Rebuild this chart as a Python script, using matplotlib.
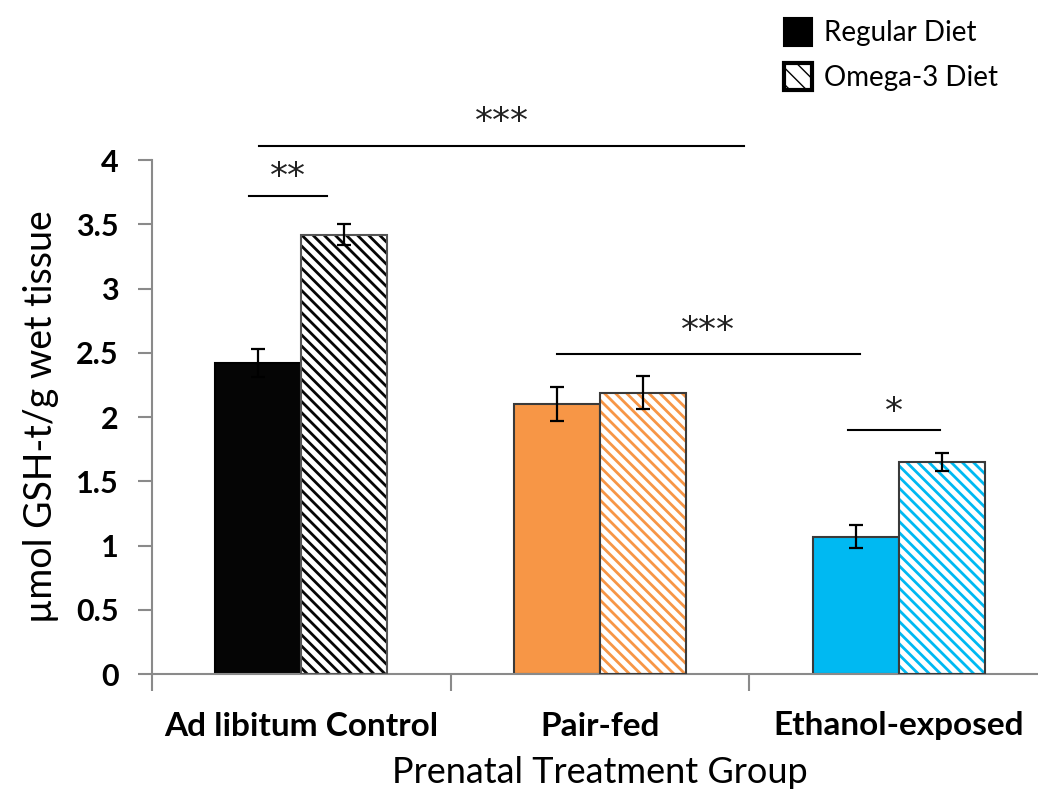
import matplotlib
matplotlib.use("Agg")
import matplotlib.pyplot as plt
from matplotlib.patches import Patch
import numpy as np

plt.rcParams['font.family'] = ['Lato', 'DejaVu Sans']

# Data
groups = ["Ad libitum Control", "Pair-fed", "Ethanol-exposed"]
regular_mean = [2.42, 2.10, 1.07]
regular_err = [0.11, 0.13, 0.09]
omega_mean = [3.42, 2.19, 1.65]
omega_err = [0.08, 0.13, 0.07]
colors = ["#050505", "#F79646", "#00B9F2"]
edge_colors = ["#000000", "#3a3a3a", "#3a3a3a"]

# Significance brackets: (x_start, x_end, line_y, label_baseline_y, label)
brackets = [
    (0.358, 1.983, 4.11, 4.22, "***"),
    (0.324, 0.585, 3.72, 3.79, "**"),
    (1.355, 2.371, 2.49, 2.59, "***"),
    (2.331, 2.639, 1.90, 1.96, "*"),
]

W, H = 1038, 799
fig = plt.figure(figsize=(W / 100, H / 100), dpi=100)
ax = fig.add_axes([152 / W, 1 - 674 / H, (1048 - 152) / W, (674 - 160) / H])

bw = 0.288
centers = np.arange(len(groups)) + 0.5
for i, c in enumerate(centers):
    # regular diet (solid)
    ax.bar(c - bw / 2, regular_mean[i], width=bw, color=colors[i],
           edgecolor=edge_colors[i], linewidth=1.5, zorder=2)
    # omega-3 diet (hatched): hatch layer, then outline
    hb = ax.bar(c + bw / 2, omega_mean[i], width=bw, color="white",
                edgecolor=colors[i], linewidth=0, hatch="\\\\\\", zorder=2)
    for p in hb:
        p.set_hatch_linewidth(2.0)
    ax.bar(c + bw / 2, omega_mean[i], width=bw, color="none",
           edgecolor=edge_colors[i] if i else "#555555", linewidth=1.5, zorder=3)
    ax.errorbar([c - bw / 2, c + bw / 2], [regular_mean[i], omega_mean[i]],
                yerr=[regular_err[i], omega_err[i]], fmt="none",
                ecolor="black", elinewidth=1.6, capsize=4.8, capthick=1.6, zorder=4)

for x0, x1, y, ty, lab in brackets:
    ax.plot([x0, x1], [y, y], color="black", lw=1.5, clip_on=False, zorder=5)
    ax.text((x0 + x1) / 2, ty, lab, ha="center", va="baseline",
            fontsize=26, color="#222222", family="DejaVu Sans", clip_on=False)

ax.set_xlim(0, 3)
ax.set_ylim(0, 4)
ax.set_yticks(np.arange(0, 4.01, 0.5))
ax.set_yticklabels(["0", "0.5", "1", "1.5", "2", "2.5", "3", "3.5", "4"],
                   fontsize=22, fontweight="bold")
ax.set_xticks([0, 1, 2, 3])
ax.set_xticklabels([])
ax.set_xticks(centers, minor=True)
ax.set_xticklabels(groups, minor=True, fontsize=24, fontweight="bold")
ax.tick_params(axis="x", which="minor", length=0, pad=27)
ax.tick_params(axis="x", which="major", length=12, width=1.5, color="#8a8a8a", direction="out")
ax.tick_params(axis="y", length=10, width=1.5, color="#8a8a8a", direction="out", pad=14)

for s in ["top", "right"]:
    ax.spines[s].set_visible(False)
for s in ["left", "bottom"]:
    ax.spines[s].set_color("#8a8a8a")
    ax.spines[s].set_linewidth(1.5)

ax.set_ylabel("µmol GSH-t/g wet tissue", fontsize=27, labelpad=12)
ax.set_xlabel("Prenatal Treatment Group", fontsize=26, labelpad=11)

h1 = Patch(facecolor="black", edgecolor="black", linewidth=1.5)
h2 = Patch(facecolor="white", edgecolor="black", linewidth=3.0, hatch="\\\\")
h2.set_hatch_linewidth(3.5)
fig.legend([h1, h2], ["Regular Diet", "Omega-3 Diet"], loc="upper left",
           bbox_to_anchor=(766 / W, 1.0), frameon=False, fontsize=20,
           borderpad=0.15, handlelength=1.0, handleheight=1.15,
           handletextpad=0.45, labelspacing=0.6)

fig.savefig("out.png", dpi=100)
